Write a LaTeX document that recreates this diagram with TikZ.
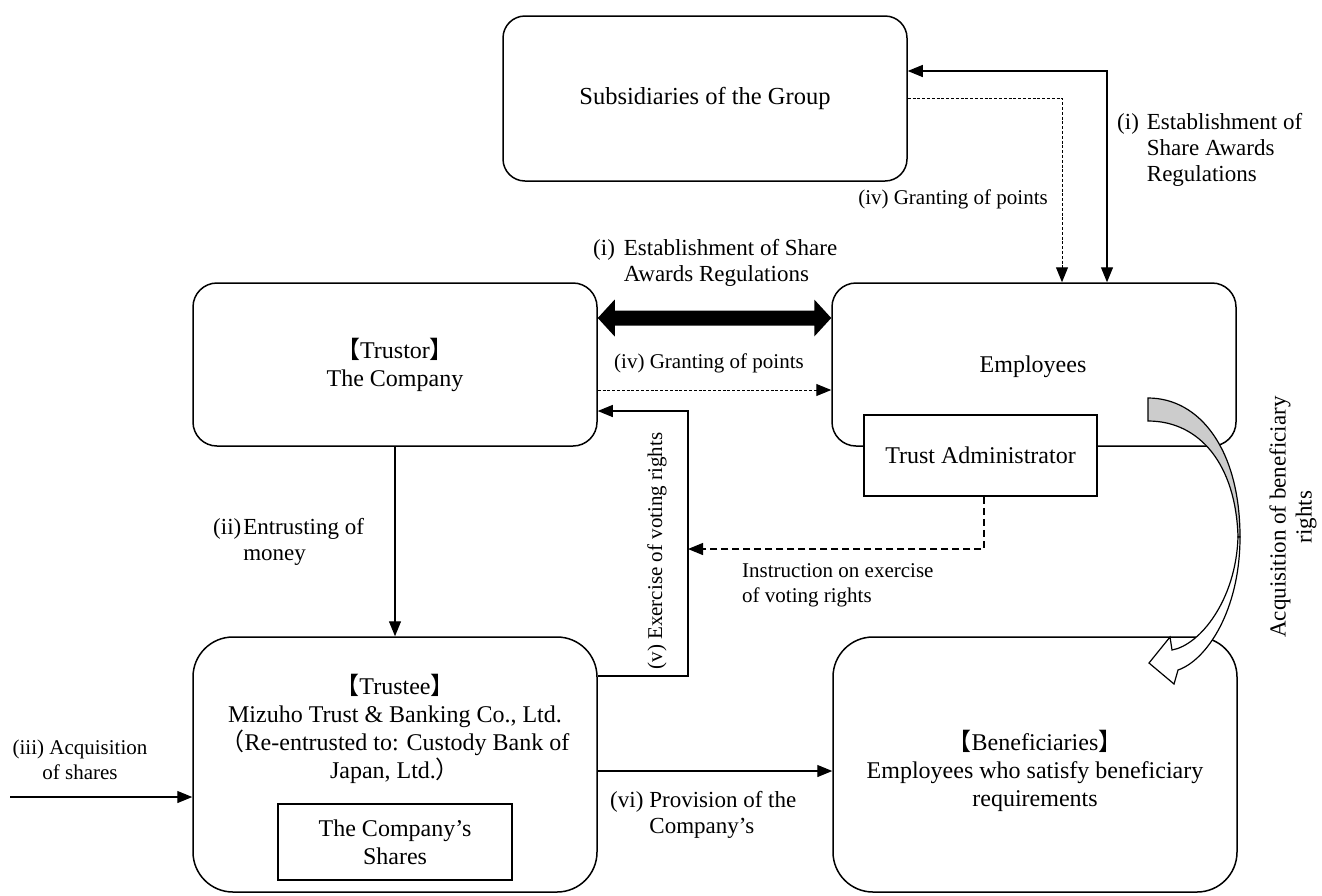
\documentclass[tikz,border=0pt]{standalone}
\usepackage{fontspec}
\setmainfont{Liberation Serif}
\newfontfamily\cjk{Noto Sans CJK JP}
\usetikzlibrary{arrows.meta}
\begin{document}
\begin{tikzpicture}[x=1pt,y=-1pt,
  box/.style={draw, line width=1.5pt, align=center, inner sep=0pt, font=\fontsize{24}{28}\selectfont},
  rbox/.style={box, rounded corners=24pt},
  bigbox/.style={box, rounded corners=40pt},
  conn/.style={line width=1.2pt},
  arr/.style={conn, -{Triangle[length=15pt,width=12pt]}},
  dblarr/.style={conn, {Triangle[length=15pt,width=12pt]}-{Triangle[length=15pt,width=12pt]}},
  fdash/.style={line width=1pt, dash pattern=on 3pt off 1.8pt, -{Triangle[length=15pt,width=12pt]}},
  idash/.style={line width=1.2pt, dash pattern=on 7pt off 4pt, -{Triangle[length=15pt,width=12pt]}},
  lbl/.style={inner sep=0pt, font=\fontsize{23}{26}\selectfont},
  slbl/.style={inner sep=0pt, font=\fontsize{21}{25}\selectfont},
  txt/.style={inner sep=0pt, align=center, font=\fontsize{24}{28}\selectfont}
]
\useasboundingbox (0,0) rectangle (1322,895);

% boxes
\node[rbox, minimum width=404pt, minimum height=165pt, rounded corners=22pt,
      font=\fontsize{24.5}{28}\selectfont] (sub) at (705,98.5) {Subsidiaries of the Group};
\node[rbox, minimum width=404pt, minimum height=163pt] (trustor) at (395,364.5)
  {{\cjk 【}Trustor{\cjk 】}\\The Company};
\node[rbox, minimum width=404pt, minimum height=163pt] (emp) at (1034,364.5) {};
\node[txt] (emptxt) at (1033,367) {Employees};
\node[box, fill=white, minimum width=233pt, minimum height=81pt] (admin) at (980.5,455.5)
  {Trust Administrator};
\node[bigbox, minimum width=404pt, minimum height=255pt] (trustee) at (395,764.5) {};
\node[txt] (trusteetxt) at (395,729)
  {{\cjk 【}Trustee{\cjk 】}\\Mizuho Trust \& Banking Co., Ltd.\\
   {\cjk （}Re-entrusted to: Custody Bank of\\Japan, Ltd.{\cjk ）}};
\node[box, minimum width=234pt, minimum height=76pt] (shares) at (395,842)
  {The Company’s\\Shares};
\node[bigbox, minimum width=404pt, minimum height=255pt] (benef) at (1035,764.5) {};
\node[txt] (beneftxt) at (1035,771)
  {{\cjk 【}Beneficiaries{\cjk 】}\\Employees who satisfy beneficiary\\requirements};

% (i) establishment of regulations: group subsidiaries <-> employees
\draw[dblarr] (sub.east |- 0,71) -| (emp.north -| 1107,0);
% (iv) granting of points from the subsidiaries
\draw[fdash] (sub.east |- 0,98) -| (emp.north -| 1062,0);

% (i) between the company and employees: heavy double arrow
\coordinate (ta) at (trustor.east |- 0,318);
\coordinate (tb) at (emp.west |- 0,318);
\fill (ta) -- ([shift={(17,-18.5)}]ta) -- ([shift={(17,-7.5)}]ta)
  -- ([shift={(-17,-7.5)}]tb) -- ([shift={(-17,-18.5)}]tb) -- (tb)
  -- ([shift={(-17,18.5)}]tb) -- ([shift={(-17,7.5)}]tb)
  -- ([shift={(17,7.5)}]ta) -- ([shift={(17,18.5)}]ta) -- cycle;

% (iv) granting of points from the company
\draw[fdash] (trustor.east |- 0,390) -- (emp.west |- 0,390);

% (ii) entrusting of money
\draw[arr] (trustor.south) -- (trustee.north);

% (v) exercise of voting rights
\coordinate (vbend) at (688,411);
\coordinate (vmid) at (688,549);
\draw[arr] (trustee.east |- 0,676) -| (vbend) -- (trustor.east |- vbend);

% instruction from the trust administrator
\draw[idash] ([xshift=3.5pt]admin.south) |- (vmid);

% (vi) provision of shares
\draw[arr] (trustee.east |- 0,771) -- (benef.west |- 0,771);

% (iii) acquisition of shares
\coordinate (src) at (10,797);
\draw[arr] (src) -- (trustee.west |- src);

% curved arrow: employees -> beneficiaries
\filldraw[fill=gray!40, line width=1.2pt]
  (1148,398) .. controls (1200,398) and (1240,450) .. (1240,537)
  -- (1238,537) .. controls (1236,465) and (1200,421) .. (1148,421) -- cycle;
\filldraw[fill=white, line width=1.2pt]
  (1240,537) .. controls (1240,610) and (1207,660) .. (1178,670)
  -- (1174,684) -- (1149,663) -- (1170,637) -- (1172,650)
  .. controls (1200,645) and (1236,600) .. (1238,537) -- cycle;

% labels
\node[lbl, anchor=west] (l1) at (593,263)
  {\begin{tabular}{@{}l@{\hspace{9pt}}l@{}}(i)&Establishment of Share\\&Awards Regulations\end{tabular}};
\node[lbl, anchor=west] (l2) at (1117,150)
  {\begin{tabular}{@{}l@{\hspace{8pt}}l@{}}(i)&Establishment of\\&Share Awards\\&Regulations\end{tabular}};
\node[slbl, anchor=east] (l3) at (1048,199) {(iv) Granting of points};
\node[slbl] (l4) at (709,363) {(iv) Granting of points};
\node[lbl, anchor=west] (l5) at (213,542)
  {\begin{tabular}{@{}l@{\hspace{2pt}}l@{}}(ii)&Entrusting of\\&money\end{tabular}};
\node[slbl, align=center] (l6) at (80,760) {(iii) Acquisition\\of shares};
\node[slbl, rotate=90] (l7) at (657,551) {(v) Exercise of voting rights};
\node[slbl, anchor=west, align=left] (l8) at (742,585) {Instruction on exercise\\of voting rights};
\node[lbl, anchor=west] (l9) at (610,815)
  {\begin{tabular}{@{}l@{\hspace{6pt}}l@{}}(vi)&Provision of the\\&Company’s\end{tabular}};
\node[lbl, rotate=90, align=center] (l10) at (1293,517) {Acquisition of beneficiary\\rights};
\end{tikzpicture}
\end{document}
